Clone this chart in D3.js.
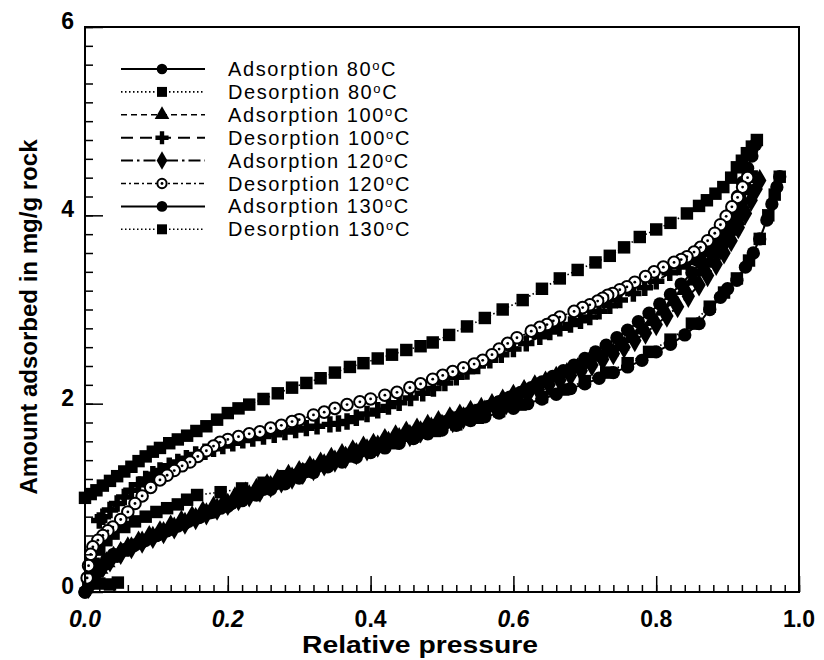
<!DOCTYPE html>
<html>
<head>
<meta charset="utf-8">
<script src="https://cdn.jsdelivr.net/npm/d3@7"></script>
<style>
  body { margin: 0; background: #fff; }
  svg { display: block; font-family: "Liberation Sans", Arial, sans-serif; }
</style>
</head>
<body>
<div class="canvas"></div>
<script>
// data: [relative pressure, amount adsorbed]
const ads80 = [[0.000,0.00],[0.005,0.06],[0.010,0.13],[0.020,0.22],[0.030,0.30],[0.045,0.38],[0.060,0.45],[0.080,0.53],[0.100,0.60],[0.120,0.67],[0.140,0.73],[0.160,0.79],[0.180,0.85],[0.200,0.91],[0.220,0.97],[0.240,1.03],[0.260,1.09],[0.280,1.15],[0.300,1.21],[0.320,1.27],[0.340,1.33],[0.360,1.38],[0.380,1.43],[0.400,1.48],[0.420,1.53],[0.440,1.58],[0.460,1.63],[0.480,1.68],[0.500,1.72],[0.520,1.77],[0.540,1.82],[0.560,1.86],[0.580,1.90],[0.600,1.95],[0.620,2.00],[0.640,2.05],[0.660,2.10],[0.680,2.16],[0.700,2.21],[0.720,2.27],[0.740,2.33],[0.760,2.39],[0.780,2.46],[0.800,2.55],[0.820,2.63],[0.840,2.73],[0.860,2.85],[0.875,3.00],[0.890,3.13],[0.900,3.22],[0.913,3.31],[0.925,3.45],[0.936,3.60],[0.945,3.75],[0.955,3.95],[0.962,4.12],[0.969,4.30],[0.973,4.41]];

const des80 = [[0.973,4.41],[0.966,4.22],[0.957,4.00],[0.945,3.75],[0.930,3.52],[0.913,3.33],[0.895,3.18],[0.875,3.03],[0.850,2.85],[0.820,2.68],[0.790,2.55],[0.760,2.43],[0.730,2.33],[0.700,2.24],[0.670,2.15],[0.640,2.07],[0.610,1.99],[0.580,1.92],[0.550,1.85],[0.520,1.78],[0.490,1.71],[0.460,1.65],[0.430,1.58],[0.400,1.51],[0.370,1.44],[0.340,1.37],[0.310,1.30],[0.280,1.23],[0.250,1.16],[0.220,1.10],[0.190,1.06],[0.157,1.03],[0.143,0.98],[0.130,0.93],[0.115,0.89],[0.100,0.85],[0.085,0.80],[0.070,0.75],[0.055,0.69],[0.040,0.62],[0.030,0.55],[0.020,0.45],[0.012,0.30],[0.010,0.18],[0.020,0.09],[0.035,0.08],[0.046,0.10]];

const ads100 = [[0.010,0.15],[0.020,0.25],[0.030,0.32],[0.040,0.38],[0.050,0.43],[0.060,0.48],[0.075,0.54],[0.090,0.60],[0.105,0.65],[0.120,0.71],[0.135,0.76],[0.150,0.81],[0.165,0.86],[0.180,0.91],[0.195,0.96],[0.210,1.01],[0.225,1.06],[0.240,1.10],[0.255,1.15],[0.270,1.20],[0.285,1.25],[0.300,1.29],[0.315,1.34],[0.330,1.38],[0.345,1.43],[0.360,1.47],[0.375,1.51],[0.390,1.55],[0.404,1.58],[0.420,1.63],[0.435,1.67],[0.450,1.71],[0.465,1.74],[0.480,1.78],[0.495,1.82],[0.511,1.86],[0.525,1.89],[0.540,1.93],[0.555,1.96],[0.570,2.00],[0.585,2.05],[0.600,2.10],[0.615,2.15],[0.630,2.20],[0.645,2.24],[0.660,2.29],[0.675,2.33],[0.690,2.38],[0.705,2.44],[0.720,2.50],[0.735,2.56],[0.750,2.62],[0.765,2.70],[0.780,2.79],[0.795,2.88],[0.810,2.99],[0.825,3.09],[0.840,3.21],[0.852,3.31],[0.864,3.41],[0.875,3.50],[0.885,3.60],[0.895,3.72],[0.905,3.84],[0.913,3.95],[0.920,4.10],[0.927,4.30],[0.933,4.40]];

const des100 = [[0.931,4.45],[0.927,4.30],[0.922,4.15],[0.917,4.02],[0.908,3.91],[0.899,3.81],[0.890,3.75],[0.878,3.67],[0.866,3.60],[0.856,3.55],[0.845,3.50],[0.832,3.45],[0.819,3.39],[0.800,3.30],[0.784,3.23],[0.768,3.17],[0.749,3.10],[0.735,3.04],[0.720,2.98],[0.707,2.92],[0.694,2.88],[0.680,2.84],[0.665,2.80],[0.651,2.76],[0.637,2.71],[0.618,2.64],[0.600,2.58],[0.583,2.52],[0.567,2.46],[0.550,2.40],[0.535,2.34],[0.520,2.28],[0.504,2.22],[0.488,2.16],[0.473,2.11],[0.456,2.06],[0.440,2.01],[0.425,1.97],[0.410,1.93],[0.395,1.89],[0.380,1.85],[0.367,1.81],[0.355,1.79],[0.343,1.78],[0.325,1.76],[0.310,1.74],[0.295,1.72],[0.280,1.70],[0.265,1.67],[0.250,1.65],[0.235,1.63],[0.221,1.61],[0.207,1.58],[0.193,1.55],[0.180,1.52],[0.168,1.49],[0.155,1.46],[0.142,1.42],[0.130,1.38],[0.118,1.34],[0.105,1.29],[0.095,1.25],[0.085,1.20],[0.075,1.14],[0.065,1.08],[0.055,1.01],[0.045,0.94],[0.035,0.87],[0.025,0.80],[0.020,0.76]];

const ads120 = [[0.005,0.05],[0.015,0.18],[0.025,0.27],[0.035,0.33],[0.050,0.41],[0.065,0.47],[0.080,0.53],[0.095,0.58],[0.110,0.63],[0.125,0.68],[0.140,0.73],[0.155,0.78],[0.170,0.83],[0.185,0.88],[0.200,0.93],[0.215,0.98],[0.230,1.02],[0.245,1.07],[0.260,1.12],[0.275,1.17],[0.290,1.21],[0.305,1.26],[0.320,1.30],[0.335,1.35],[0.350,1.39],[0.365,1.43],[0.380,1.47],[0.395,1.51],[0.410,1.55],[0.425,1.59],[0.440,1.63],[0.455,1.66],[0.470,1.70],[0.485,1.74],[0.500,1.77],[0.515,1.81],[0.530,1.85],[0.545,1.88],[0.560,1.92],[0.575,1.96],[0.590,2.00],[0.605,2.05],[0.620,2.10],[0.635,2.15],[0.650,2.20],[0.665,2.25],[0.680,2.30],[0.695,2.35],[0.710,2.41],[0.725,2.47],[0.740,2.53],[0.755,2.60],[0.770,2.67],[0.785,2.75],[0.800,2.84],[0.815,2.93],[0.830,3.03],[0.845,3.14],[0.860,3.26],[0.872,3.36],[0.884,3.48],[0.895,3.60],[0.905,3.73],[0.915,3.87],[0.925,4.02],[0.933,4.16],[0.940,4.28],[0.945,4.37]];

const des120 = [[0.928,4.40],[0.921,4.30],[0.914,4.19],[0.906,4.09],[0.898,3.99],[0.890,3.90],[0.882,3.81],[0.872,3.73],[0.862,3.66],[0.853,3.61],[0.843,3.56],[0.835,3.53],[0.825,3.50],[0.810,3.45],[0.797,3.40],[0.785,3.35],[0.770,3.29],[0.759,3.24],[0.749,3.21],[0.739,3.17],[0.732,3.15],[0.725,3.12],[0.718,3.09],[0.707,3.05],[0.697,3.02],[0.685,2.98],[0.665,2.92],[0.656,2.88],[0.647,2.84],[0.637,2.81],[0.625,2.77],[0.605,2.70],[0.592,2.64],[0.580,2.58],[0.570,2.52],[0.557,2.46],[0.545,2.42],[0.530,2.38],[0.515,2.34],[0.501,2.30],[0.487,2.26],[0.470,2.21],[0.455,2.17],[0.437,2.12],[0.420,2.09],[0.400,2.05],[0.385,2.02],[0.367,1.99],[0.350,1.95],[0.335,1.91],[0.320,1.88],[0.300,1.83],[0.290,1.81],[0.275,1.77],[0.260,1.74],[0.245,1.70],[0.230,1.68],[0.215,1.65],[0.200,1.62],[0.189,1.59],[0.180,1.55],[0.170,1.50],[0.158,1.44],[0.147,1.38],[0.136,1.34],[0.125,1.29],[0.115,1.24],[0.105,1.19],[0.092,1.11],[0.080,1.02],[0.070,0.94],[0.060,0.85],[0.050,0.77],[0.039,0.69],[0.032,0.65],[0.025,0.60],[0.018,0.55],[0.011,0.48],[0.008,0.40],[0.005,0.28],[0.003,0.15]];

const ads130 = [[0.000,0.00],[0.005,0.10],[0.012,0.20],[0.020,0.28],[0.030,0.34],[0.040,0.40],[0.055,0.45],[0.070,0.50],[0.085,0.55],[0.100,0.60],[0.115,0.65],[0.130,0.70],[0.145,0.75],[0.160,0.80],[0.175,0.84],[0.190,0.89],[0.205,0.94],[0.220,0.99],[0.235,1.04],[0.250,1.09],[0.265,1.14],[0.280,1.19],[0.295,1.24],[0.310,1.28],[0.325,1.33],[0.340,1.37],[0.355,1.41],[0.370,1.45],[0.385,1.49],[0.400,1.53],[0.415,1.57],[0.430,1.61],[0.445,1.65],[0.460,1.69],[0.475,1.73],[0.490,1.77],[0.505,1.81],[0.520,1.85],[0.535,1.89],[0.550,1.93],[0.565,1.97],[0.580,2.02],[0.595,2.07],[0.610,2.12],[0.625,2.17],[0.640,2.23],[0.655,2.29],[0.670,2.35],[0.685,2.41],[0.700,2.48],[0.715,2.55],[0.730,2.62],[0.745,2.70],[0.760,2.78],[0.775,2.87],[0.790,2.96],[0.805,3.06],[0.820,3.16],[0.835,3.27],[0.850,3.39],[0.862,3.50],[0.874,3.62],[0.886,3.75],[0.897,3.90],[0.906,4.05],[0.914,4.20],[0.921,4.35],[0.928,4.50],[0.934,4.63],[0.939,4.75]];

const des130 = [[0.941,4.80],[0.934,4.73],[0.927,4.66],[0.920,4.58],[0.913,4.51],[0.905,4.40],[0.894,4.30],[0.883,4.23],[0.871,4.16],[0.860,4.10],[0.843,4.02],[0.820,3.92],[0.800,3.85],[0.777,3.77],[0.755,3.66],[0.735,3.57],[0.715,3.50],[0.690,3.42],[0.665,3.33],[0.640,3.22],[0.613,3.10],[0.585,3.00],[0.560,2.91],[0.535,2.82],[0.510,2.73],[0.487,2.65],[0.470,2.61],[0.450,2.57],[0.430,2.52],[0.410,2.48],[0.390,2.43],[0.371,2.39],[0.350,2.33],[0.330,2.27],[0.310,2.22],[0.290,2.17],[0.270,2.11],[0.250,2.05],[0.230,1.99],[0.215,1.95],[0.200,1.90],[0.185,1.83],[0.170,1.76],[0.156,1.71],[0.143,1.66],[0.130,1.62],[0.118,1.58],[0.105,1.53],[0.095,1.49],[0.085,1.44],[0.075,1.39],[0.065,1.33],[0.055,1.28],[0.045,1.23],[0.035,1.18],[0.025,1.13],[0.016,1.08],[0.008,1.04],[0.000,1.00]];

const seriesNames = ['Adsorption', 'Desorption', 'Adsorption', 'Desorption', 'Adsorption', 'Desorption', 'Adsorption', 'Desorption'];
const seriesTemps = ['80', '80', '100', '100', '120', '120', '130', '130'];
const xTickLabels = ['0.0', '0.2', '0.4', '0.6', '0.8', '1.0'];
const yTickLabels = ['0', '2', '4', '6'];

// svg
const width = 824, height = 660;
const svg = d3.select('.canvas')
  .append('svg')
    .attr('width', width)
    .attr('height', height);

svg.append('rect').attr('width', width).attr('height', height).attr('fill', '#fff');

const x = d3.scaleLinear().domain([0, 1]).range([85, 799]);
const y = d3.scaleLinear().domain([0, 6]).range([592, 27]);

// line styles and markers for each series
const styles = [
  {symbol: 'circle', dash: null, lw: 2},
  {symbol: 'square', dash: '1.5,2.5', lw: 1.6},
  {symbol: 'triangle', dash: '6,4', lw: 1.6},
  {symbol: 'cross', dash: '12,7', lw: 2},
  {symbol: 'diamond', dash: '12,4,2.5,4', lw: 2},
  {symbol: 'open', dash: '5,3,2,3', lw: 1.5},
  {symbol: 'circle', dash: null, lw: 2},
  {symbol: 'square', dash: '1.5,2.5', lw: 1.6}
];
const allData = [ads80, des80, ads100, des100, ads120, des120, ads130, des130];

const series = allData.map((d, i) => ({
  name: seriesNames[i], temp: seriesTemps[i], data: d, ...styles[i]
}));

const symbolTypes = {
  circle: [d3.symbolCircle, 140],
  square: [d3.symbolSquare, 155],
  triangle: [d3.symbolTriangle, 145],
  cross: [d3.symbolCross, 150],
  diamond: [d3.symbolDiamond, 155]
};

const drawMarker = (g, type, cx, cy, legendSize) => {
  const k = legendSize ? 0.8 : 1;
  if (type === 'open') {
    g.append('circle').attr('cx', cx).attr('cy', cy).attr('r', 5.8 * k)
      .attr('fill', '#fff').attr('stroke', '#000').attr('stroke-width', 2);
    g.append('circle').attr('cx', cx).attr('cy', cy).attr('r', 1.4).attr('fill', '#000');
  } else {
    const [t, s] = symbolTypes[type];
    g.append('path')
      .attr('d', d3.symbol().type(t).size(s * k * k)())
      .attr('transform', `translate(${cx},${cy})`)
      .attr('fill', '#000');
  }
};

const line = d3.line().x(d => x(d[0])).y(d => y(d[1]));

const plot = svg.append('g');

// draw order: adsorption first, desorption over it
const order = [0, 2, 4, 6, 1, 3, 7, 5];
order.forEach(i => {
  const s = series[i];
  const g = plot.append('g');
  g.append('path')
    .attr('d', line(s.data))
    .attr('fill', 'none')
    .attr('stroke', '#000')
    .attr('stroke-width', s.lw)
    .attr('stroke-dasharray', s.dash);
  s.data.forEach(d => drawMarker(g, s.symbol, x(d[0]), y(d[1])));
});

// frame
svg.append('rect')
  .attr('x', 85).attr('y', 27)
  .attr('width', 714).attr('height', 565)
  .attr('fill', 'none').attr('stroke', '#000').attr('stroke-width', 2);

// axes with inward ticks
const xMinor = d3.range(0, 1.0001, 0.02);
const yMinor = d3.range(0, 6.0001, 0.2);

svg.append('g')
  .attr('transform', `translate(0, 592)`)
  .call(d3.axisBottom(x).tickValues(xMinor).tickSize(-7).tickFormat(''))
  .call(g => g.select('.domain').remove());
svg.append('g')
  .attr('transform', `translate(0, 592)`)
  .call(d3.axisBottom(x).tickValues(d3.range(0, 1.0001, 0.2)).tickSize(-16).tickFormat(''))
  .call(g => g.select('.domain').remove());
svg.append('g')
  .attr('transform', `translate(85, 0)`)
  .call(d3.axisLeft(y).tickValues(yMinor).tickSize(-8).tickFormat(''))
  .call(g => g.select('.domain').remove());
svg.append('g')
  .attr('transform', `translate(85, 0)`)
  .call(d3.axisLeft(y).tickValues([0, 2, 4, 6]).tickSize(-18).tickFormat(''))
  .call(g => g.select('.domain').remove());
svg.selectAll('.tick line').attr('stroke-width', 1.5);

// tick labels
svg.selectAll('.xlab')
  .data(xTickLabels)
  .enter().append('text')
    .attr('x', d => x(+d))
    .attr('y', 627)
    .attr('text-anchor', 'middle')
    .attr('font-size', 23)
    .attr('font-weight', 'bold')
    .attr('font-style', (d, i) => [0, 1, 3].includes(i) ? 'italic' : 'normal')
    .text(d => d);

svg.selectAll('.ylab')
  .data(yTickLabels)
  .enter().append('text')
    .attr('x', 74)
    .attr('y', d => y(+d) + 2)
    .attr('text-anchor', 'end')
    .attr('font-size', 23)
    .attr('font-weight', 'bold')
    .text(d => d);

// axis titles
svg.append('text')
  .attr('x', 420).attr('y', 653)
  .attr('text-anchor', 'middle')
  .attr('font-size', 24).attr('font-weight', 'bold')
  .attr('textLength', 236).attr('lengthAdjust', 'spacingAndGlyphs')
  .text('Relative pressure');

svg.append('text')
  .attr('transform', 'translate(37, 317) rotate(-90)')
  .attr('text-anchor', 'middle')
  .attr('font-size', 24).attr('font-weight', 'bold')
  .attr('textLength', 355).attr('lengthAdjust', 'spacingAndGlyphs')
  .text('Amount adsorbed in mg/g rock');

// legend
const legend = svg.append('g');
series.forEach((s, i) => {
  const ly = 69 + i * 22.9;
  const g = legend.append('g');
  g.append('line')
    .attr('x1', 121).attr('x2', 205)
    .attr('y1', ly).attr('y2', ly)
    .attr('stroke', '#000')
    .attr('stroke-width', s.lw)
    .attr('stroke-dasharray', s.dash);
  drawMarker(g, s.symbol, 162, ly, true);
  const t = g.append('text')
    .attr('x', 228).attr('y', ly + 7)
    .attr('font-size', 20)
    .attr('letter-spacing', 1.6);
  t.append('tspan').text(s.name + ' ' + s.temp);
  t.append('tspan').attr('dy', -6).attr('font-size', 13).text('o');
  t.append('tspan').attr('dy', 6).text('C');
});
</script>
</body>
</html>
